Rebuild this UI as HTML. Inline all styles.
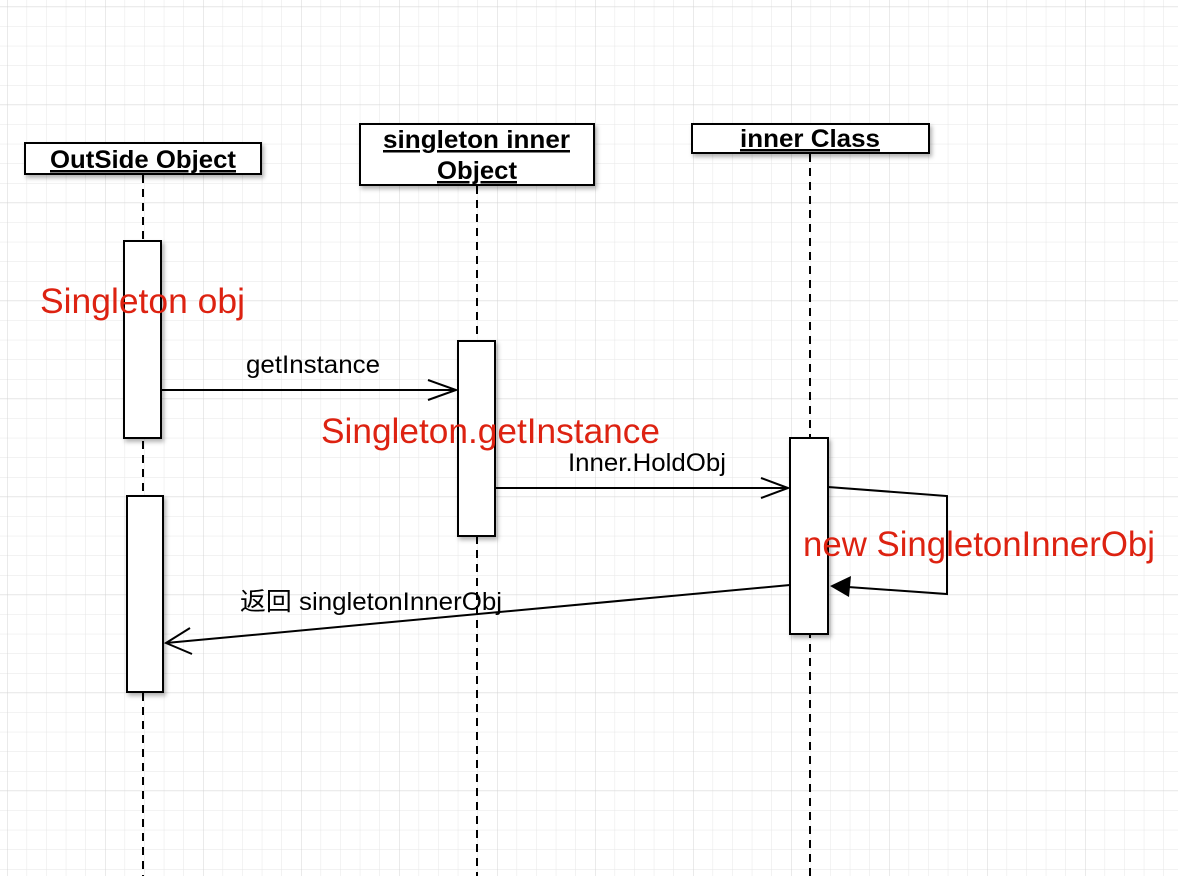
<!DOCTYPE html>
<html><head><meta charset="utf-8"><style>
html,body{margin:0;padding:0;background:#fff;}
svg{display:block;}
text{font-family:"Liberation Sans","Noto Sans CJK SC",sans-serif;}
</style></head><body>
<svg width="1178" height="876" viewBox="0 0 1178 876" xmlns="http://www.w3.org/2000/svg">
<defs>
<pattern id="minor" x="7" y="6.6" width="19.6" height="19.6" patternUnits="userSpaceOnUse">
<path d="M0 0H19.6M0 0V19.6" stroke="#e6e6e6" stroke-width="1" fill="none"/>
</pattern>
<pattern id="major" x="7" y="6.6" width="98" height="98" patternUnits="userSpaceOnUse">
<path d="M0 0H98M0 0V98" stroke="#d4d4d4" stroke-width="1" fill="none"/>
</pattern>
<filter id="sh" x="-20%" y="-20%" width="140%" height="140%"><feDropShadow dx="2" dy="3" stdDeviation="2" flood-color="#000" flood-opacity="0.3"/></filter>
</defs>
<rect width="1178" height="876" fill="url(#minor)"/>
<rect width="1178" height="876" fill="url(#major)"/>

<g stroke="#000" stroke-width="2" stroke-dasharray="8,6">
<line x1="143" y1="175" x2="143" y2="876"/>
<line x1="477" y1="186" x2="477" y2="876"/>
<line x1="810" y1="154" x2="810" y2="876"/>
</g>

<g filter="url(#sh)" fill="#fff" stroke="#000" stroke-width="2">
<rect x="25" y="143" width="236" height="31"/>
<rect x="360" y="124" width="234" height="61"/>
<rect x="692" y="124" width="237" height="29"/>
</g>
<g font-weight="bold" font-size="25" text-decoration="underline">
<text x="50" y="168" textLength="186" lengthAdjust="spacingAndGlyphs">OutSide Object</text>
<text x="383" y="148" textLength="187" lengthAdjust="spacingAndGlyphs">singleton inner</text>
<text x="437" y="179" textLength="80" lengthAdjust="spacingAndGlyphs">Object</text>
<text x="740" y="147" textLength="140" lengthAdjust="spacingAndGlyphs">inner Class</text>
</g>

<g filter="url(#sh)" fill="#fff" stroke="#000" stroke-width="2">
<rect x="124" y="241" width="37" height="197"/>
<rect x="127" y="496" width="36" height="196"/>
<rect x="458" y="341" width="37" height="195"/>
<rect x="790" y="438" width="38" height="196"/>
</g>

<g stroke="#000" stroke-width="2" fill="none">
<line x1="161" y1="390" x2="456" y2="390"/>
<path d="M428 380 L456 390 L428 400"/>
<line x1="495" y1="488" x2="788" y2="488"/>
<path d="M761 478 L788 488 L761 498"/>
<path d="M828 487 L947 496 L947 594 L848 587"/>
<line x1="790" y1="585" x2="166" y2="643"/>
<path d="M190 628 L166 643 L192 654"/>
</g>
<path d="M830 586 L851 576 L849 597 Z" fill="#000"/>

<g font-size="25" fill="#000">
<text x="246" y="373" textLength="134" lengthAdjust="spacingAndGlyphs">getInstance</text>
<text x="568" y="471" textLength="158" lengthAdjust="spacingAndGlyphs">Inner.HoldObj</text>
<text x="240" y="610" textLength="262" lengthAdjust="spacingAndGlyphs">返回 singletonInnerObj</text>
</g>
<g font-size="35" fill="#dd2211">
<text x="40" y="313" textLength="205" lengthAdjust="spacingAndGlyphs">Singleton obj</text>
<text x="321" y="443" textLength="339" lengthAdjust="spacingAndGlyphs">Singleton.getInstance</text>
<text x="803" y="556" textLength="352" lengthAdjust="spacingAndGlyphs">new SingletonInnerObj</text>
</g>
</svg>
</body></html>
